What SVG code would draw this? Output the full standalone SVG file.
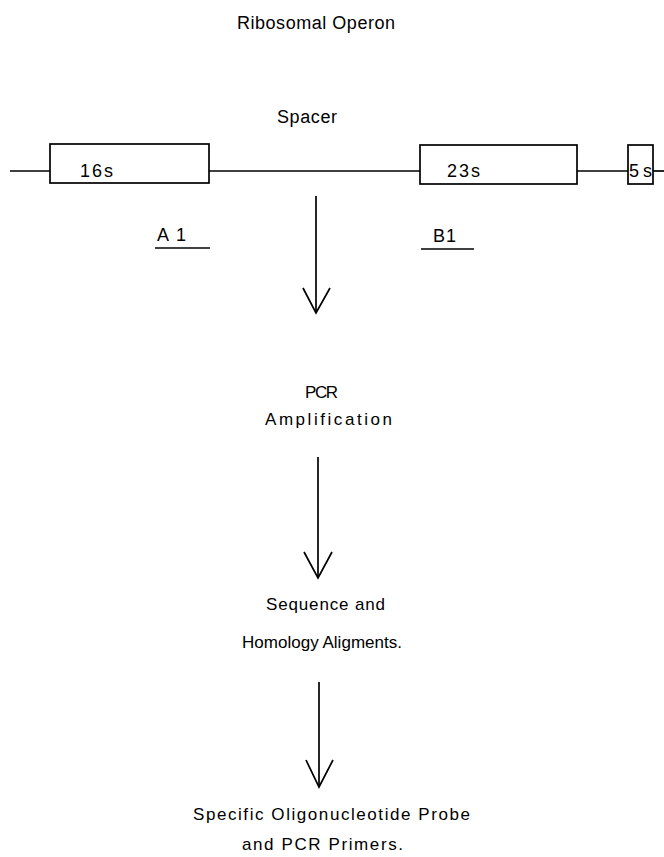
<svg xmlns="http://www.w3.org/2000/svg" width="664" height="857" viewBox="0 0 664 857">
<style>
text{font-family:"Liberation Sans",Arial,sans-serif;font-size:17px;fill:#000;}
.big{font-size:18px;}
.ln{stroke:#000;stroke-width:1.7;fill:none;}
.box{stroke:#000;stroke-width:1.7;fill:#fff;}
</style>
<rect width="664" height="857" fill="#fff"/>
<g id="title"><text class="big" x="237" y="29" textLength="158" lengthAdjust="spacing">Ribosomal Operon</text></g>
<g id="spacer"><text class="big" x="277" y="123" textLength="60" lengthAdjust="spacing">Spacer</text></g>
<g id="connectors">
<line class="ln" x1="10" y1="171" x2="50" y2="171"/>
<line class="ln" x1="209" y1="171" x2="420" y2="171"/>
<line class="ln" x1="577" y1="171" x2="628" y2="171"/>
<line class="ln" x1="653" y1="171" x2="664" y2="171"/>
<line class="ln" x1="316" y1="196" x2="316" y2="313"/>
<polyline class="ln" points="303,288 316,313 330,288"/>
<line class="ln" x1="318" y1="457" x2="318" y2="578"/>
<polyline class="ln" points="304,552 318,578 332,552"/>
<line class="ln" x1="319" y1="682" x2="319" y2="787"/>
<polyline class="ln" points="306,760 319,787 333,760"/>
</g>
<g id="gene16s"><rect class="box" x="50" y="144" width="159" height="39"/><text class="big" x="80" y="177" textLength="33" lengthAdjust="spacing">16s</text></g>
<g id="gene23s"><rect class="box" x="420" y="145" width="157" height="39"/><text class="big" x="447" y="177" textLength="33" lengthAdjust="spacing">23s</text></g>
<g id="gene5s"><rect class="box" x="628" y="145" width="25" height="39"/><text class="big" x="629" y="177" textLength="23" lengthAdjust="spacing">5s</text></g>
<g id="primerA1"><text class="big" x="157" y="241" textLength="29" lengthAdjust="spacing">A1</text><line class="ln" x1="155" y1="248" x2="210" y2="248"/></g>
<g id="primerB1"><text class="big" x="433" y="242" textLength="23" lengthAdjust="spacing">B1</text><line class="ln" x1="421" y1="249" x2="474" y2="249"/></g>
<g id="pcr"><text x="305" y="398" textLength="33" lengthAdjust="spacing">PCR</text><text x="265" y="425" textLength="127" lengthAdjust="spacing">Amplification</text></g>
<g id="sequence"><text x="266" y="610" textLength="119" lengthAdjust="spacing">Sequence and</text><text x="242" y="648" textLength="160" lengthAdjust="spacing">Homology  Aligments.</text></g>
<g id="probe"><text x="193" y="820" textLength="277" lengthAdjust="spacing">Specific  Oligonucleotide  Probe</text><text x="242" y="850" textLength="161" lengthAdjust="spacing">and PCR Primers.</text></g>
</svg>
